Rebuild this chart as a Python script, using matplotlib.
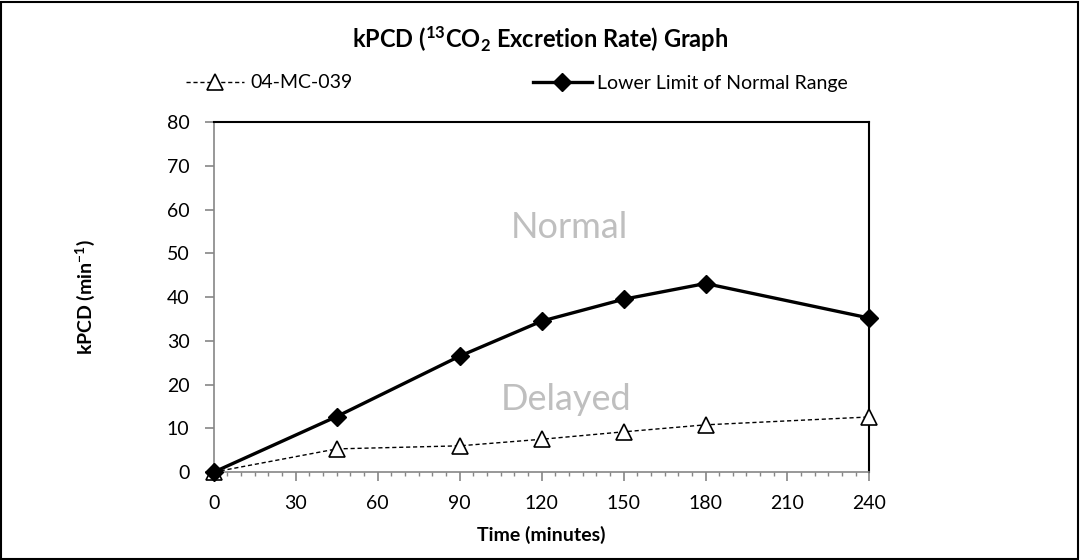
import matplotlib
matplotlib.use("Agg")
import matplotlib.pyplot as plt
from matplotlib.ticker import MultipleLocator
from matplotlib.patches import Rectangle

plt.rcParams['font.family'] = ['Lato', 'DejaVu Sans']
plt.rcParams['mathtext.fontset'] = 'custom'
plt.rcParams['mathtext.rm'] = 'Lato'
plt.rcParams['mathtext.bf'] = 'Lato:bold'
plt.rcParams['mathtext.it'] = 'Lato:italic'

times = [0, 45, 90, 120, 150, 180, 240]
patient = [0, 5.3, 6.0, 7.5, 9.2, 10.8, 12.6]
lower_limit = [0, 12.7, 26.5, 34.5, 39.5, 43.1, 35.2]
patient_label = "04-MC-039"
limit_label = "Lower Limit of Normal Range"
x_ticks = [0, 30, 60, 90, 120, 150, 180, 210, 240]
y_ticks = [0, 10, 20, 30, 40, 50, 60, 70, 80]

fig = plt.figure(figsize=(10.8, 5.6), dpi=100)
ax = fig.add_axes([0.198, 0.157, 0.607, 0.625])

ax.plot(times, patient, linestyle='--', dashes=(3, 2), color='black', linewidth=1.0,
        marker='^', markersize=11, markerfacecolor='white', markeredgecolor='black',
        markeredgewidth=1.2, label=patient_label, clip_on=False, zorder=3)
ax.plot(times, lower_limit, linestyle='-', color='black', linewidth=2.4,
        marker='D', markersize=9, markerfacecolor='black', markeredgecolor='black',
        label=limit_label, clip_on=False, zorder=4)

ax.set_xlim(0, 240)
ax.set_ylim(0, 80)
ax.set_xticks(x_ticks)
ax.set_yticks(y_ticks)
ax.xaxis.set_minor_locator(MultipleLocator(5))

for s in ['left', 'bottom']:
    ax.spines[s].set_color('#868686')
    ax.spines[s].set_linewidth(1.2)
for s in ['top', 'right']:
    ax.spines[s].set_color('black')
    ax.spines[s].set_linewidth(1.5)

ax.tick_params(axis='both', which='major', direction='out', color='#868686',
               length=6.5, width=1.2, labelsize=14, labelcolor='black')
ax.tick_params(axis='y', which='major', pad=11)
ax.tick_params(axis='x', which='major', pad=10)
ax.tick_params(axis='x', which='minor', direction='out', color='#868686', length=3, width=1)

ax.set_xlabel("Time (minutes)", fontsize=14, fontweight='bold', labelpad=10)
ax.set_ylabel(r"kPCD (min$^{\mathbf{-1}}$)", fontsize=14, fontweight='bold', labelpad=50)

ax.text(130, 56, "Normal", fontsize=26, color='#bfbfbf', ha='center', va='center')
ax.text(129, 16.5, "Delayed", fontsize=26, color='#bfbfbf', ha='center', va='center')

fig.text(0.5, 0.93, r"kPCD ($\mathbf{^{13}}$CO$\mathbf{_{2}}$ Excretion Rate) Graph",
         fontsize=17, fontweight='bold', ha='center', va='center')

leg = fig.legend(loc='center left', bbox_to_anchor=(186 / 1080, 1 - 83 / 560), ncol=2,
                 frameon=False, fontsize=14, handlelength=3.0, columnspacing=9.3,
                 handletextpad=0.3, borderpad=0, borderaxespad=0)

fig.patches.append(Rectangle((0.001, 0.002), 0.997, 0.995, transform=fig.transFigure,
                             fill=False, edgecolor='black', linewidth=1.5))

fig.savefig("out.png", dpi=100)
